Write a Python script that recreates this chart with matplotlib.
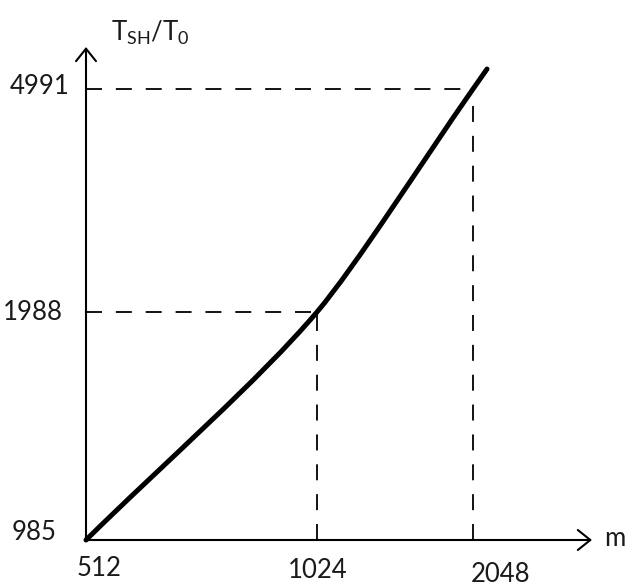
import numpy as np
import matplotlib
matplotlib.use("Agg")
import matplotlib.pyplot as plt
from matplotlib.path import Path
from matplotlib.patches import PathPatch

# data
m_ticks = [512, 1024, 2048]
t_ticks = [985, 1988, 4991]
# the curve runs a little past the last marked point
m_tail = 2140
t_tail = 5260
x_name = "m"
y_name = r"$\mathregular{T_{SH}/T_0}$"

# layout (figure pixels, y measured from the bottom)
W, H = 636, 588
x_pix = [86, 317, 473]
y_pix = [48, 276, 499]
x_end, y_end = 592, 541

plt.rcParams["font.family"] = ["Lato", "DejaVu Sans"]
plt.rcParams["lines.scale_dashes"] = False


def piecewise(vals, pix):
    v = np.asarray(vals, float)
    p = np.asarray(pix, float)
    s0 = (p[1] - p[0]) / (v[1] - v[0])
    s1 = (p[-1] - p[-2]) / (v[-1] - v[-2])
    big = 1e6
    v_ext = np.r_[v[0] - big, v, v[-1] + big]
    p_ext = np.r_[p[0] - s0 * big, p, p[-1] + s1 * big]
    fwd = lambda x: np.interp(x, v_ext, p_ext)
    inv = lambda y: np.interp(y, p_ext, v_ext)
    return fwd, inv


fx, ix = piecewise(m_ticks, x_pix)
fy, iy = piecewise(t_ticks, y_pix)

fig = plt.figure(figsize=(W / 100, H / 100), dpi=100)
ax = fig.add_axes([x_pix[0] / W, y_pix[0] / H, (x_end - x_pix[0]) / W, (y_end - y_pix[0]) / H])
ax.set_xscale("function", functions=(fx, ix))
ax.set_yscale("function", functions=(fy, iy))
ax.set_xlim(ix(x_pix[0]), ix(x_end))
ax.set_ylim(iy(y_pix[0]), iy(y_end))
ax.axis("off")

# smooth curve through the marked points (Bezier in scaled space,
# shorter handles at the inner point so each piece stays fairly straight)
X = fx(np.array(m_ticks, float))
Y = fy(np.array(t_ticks, float))
h = np.diff(X)
s = np.diff(Y) / h
d = np.empty_like(X)
d[0], d[-1] = s[0], s[-1]
for k in range(1, len(X) - 1):
    w1, w2 = 2 * h[k] + h[k - 1], h[k] + 2 * h[k - 1]
    d[k] = (w1 + w2) / (w1 / s[k - 1] + w2 / s[k])
lead = np.full_like(X, 1 / 3)
lead[1:-1] = 0.25
verts = [(X[0], Y[0])]
codes = [Path.MOVETO]
for k in range(len(X) - 1):
    a, b = lead[k] * h[k], lead[k + 1] * h[k]
    verts += [(X[k] + a, Y[k] + d[k] * a),
              (X[k + 1] - b, Y[k + 1] - d[k + 1] * b),
              (X[k + 1], Y[k + 1])]
    codes += [Path.CURVE4] * 3
verts.append((fx(m_tail), fy(t_tail)))
codes.append(Path.LINETO)
verts = np.array(verts, float)
verts = np.column_stack([ix(verts[:, 0]), iy(verts[:, 1])])
ax.add_patch(PathPatch(Path(verts, codes), fill=False, lw=3.6, color="black",
                       capstyle="round", joinstyle="round", clip_on=False))

# dashed guide lines
dash = (0, (11.5, 10))
for m, t in zip(m_ticks[1:], t_ticks[1:]):
    ax.plot([m_ticks[0], m], [t, t], color="black", lw=1.3, ls=dash)
    ax.plot([m, m], [t_ticks[0], t], color="black", lw=1.3, ls=dash)

# axes with open arrow heads
arrow = dict(arrowstyle="->,head_length=0.45,head_width=0.36", lw=1.5, color="black",
             shrinkA=0, shrinkB=0, mutation_scale=20)
ax.annotate("", xy=(1, 0), xytext=(0, 0), xycoords="axes fraction", arrowprops=arrow)
ax.annotate("", xy=(0, 1), xytext=(0, 0), xycoords="axes fraction", arrowprops=arrow)

txt = dict(fontsize=18.5, color="#1a1a1a", ha="center", va="center",
           textcoords="offset pixels", annotation_clip=False)
x_off = [(13, -28), (1, -31), (28, -35)]
for m, off in zip(m_ticks, x_off):
    ax.annotate(str(m), xy=(m, t_ticks[0]), xytext=off, **txt)
y_off = [(-52, 8), (-53, -1), (-46, 3)]
for t, off in zip(t_ticks, y_off):
    ax.annotate(str(t), xy=(m_ticks[0], t), xytext=off, **txt)

ax.annotate(x_name, xy=(1, 0), xycoords="axes fraction", xytext=(23, 2), **txt)
ax.annotate(y_name, xy=(0, 1), xycoords="axes fraction", xytext=(64, 14), **txt)

fig.savefig("out.png", dpi=100)
